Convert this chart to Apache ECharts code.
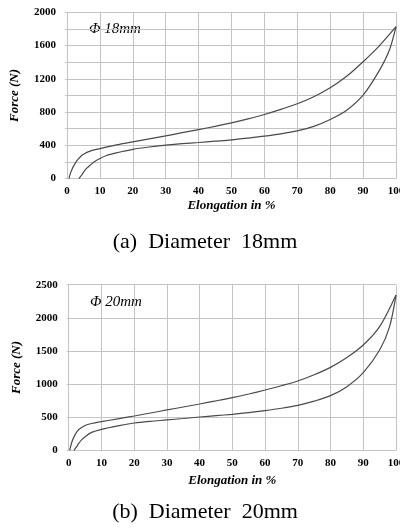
<!DOCTYPE html>
<html>
<head>
<meta charset="utf-8">
<script src="https://cdn.jsdelivr.net/npm/echarts@6/dist/echarts.min.js"></script>
<style>
html,body{margin:0;padding:0;background:#fff;}
#chart{width:400px;height:530px;}
</style>
</head>
<body>
<div id="chart"></div>
<script>
// ---- Data (Elongation %, Force N) ----
var loading18 = [[0.6,0],[1,60],[1.5,110],[2,150],[3,215],[4,260],[5,292],[7,330],[10,360],[15,405],[20,442],[25,478],[30,514],[35,552],[40,590],[45,628],[50,670],[55,718],[60,771],[65,832],[70,900],[75,985],[80,1092],[85,1230],[90,1406],[95,1600],[100,1827]];
var unloading18 = [[3.6,0],[4.5,45],[5,75],[6,125],[7,160],[8,195],[10,241],[12,278],[15,310],[20,352],[25,380],[30,402],[35,420],[40,434],[45,450],[50,466],[55,487],[60,510],[65,538],[70,574],[75,628],[80,711],[85,823],[90,1004],[95,1305],[98,1546],[100,1827]];
var loading20 = [[0.3,0],[1,130],[2,240],[3,310],[5,375],[7,405],[10,433],[15,475],[20,518],[25,563],[30,609],[35,654],[40,699],[45,746],[50,795],[55,850],[60,910],[65,975],[70,1046],[75,1140],[80,1252],[85,1400],[90,1589],[95,1866],[100,2344]];
var unloading20 = [[1.6,0],[2.5,60],[3,100],[4,160],[5,206],[7,270],[10,317],[15,370],[20,412],[25,438],[30,458],[35,480],[40,503],[45,523],[50,543],[55,568],[60,599],[65,635],[70,679],[75,742],[80,825],[85,961],[90,1172],[95,1514],[98,1860],[100,2344]];

var xTicks = [0,10,20,30,40,50,60,70,80,90,100];
var yTicks18 = [0,400,800,1200,1600,2000];
var yTicks20 = [0,500,1000,1500,2000,2500];

var labels = {
  yName: 'Force (N)',
  xName: 'Elongation in %',
  note18: 'Φ 18mm',
  note20: 'Φ 20mm',
  cap18: '(a)  Diameter  18mm',
  cap20: '(b)  Diameter  20mm'
};

var chart = echarts.init(document.getElementById('chart'), null, {renderer:'canvas'});

var gridColor = '#c4c4c4';
var lineColor = '#4a4a4a';
var serif = '"Liberation Serif","Times New Roman",serif';

function xAxisCfg(gridIndex, nameGap){
  return {
    type:'value', gridIndex:gridIndex, min:0, max:100, interval:10,
    axisLine:{show:true, lineStyle:{color:gridColor, width:1}},
    axisTick:{show:false},
    splitLine:{show:true, lineStyle:{color:gridColor, width:1}},
    axisLabel:{color:'#000', fontFamily:serif, fontWeight:'bold', fontSize:11, margin:7, hideOverlap:false,
      formatter:function(v){ return xTicks.indexOf(v)>=0 ? String(v) : ''; }},
    name: labels.xName, nameLocation:'middle', nameGap:nameGap,
    nameTextStyle:{color:'#000', fontFamily:serif, fontWeight:'bold', fontStyle:'italic', fontSize:13}
  };
}
function yAxisCfg(gridIndex, max, interval, ticks){
  return {
    type:'value', gridIndex:gridIndex, min:0, max:max, interval:interval,
    axisLine:{show:true, lineStyle:{color:gridColor, width:1}},
    axisTick:{show:true, length:2, lineStyle:{color:gridColor}},
    splitLine:{show:true, lineStyle:{color:gridColor, width:1}},
    axisLabel:{color:'#000', fontFamily:serif, fontWeight:'bold', fontSize:11, margin:11,
      formatter:function(v){ return ticks.indexOf(v)>=0 ? String(v) : ''; }},
    name: labels.yName, nameLocation:'middle', nameGap:46, nameRotate:90,
    nameTextStyle:{color:'#000', fontFamily:serif, fontWeight:'bold', fontStyle:'italic', fontSize:13}
  };
}
function lineSeries(data, xi, yi){
  return {
    type:'line', xAxisIndex:xi, yAxisIndex:yi, data:data, smooth:0.3,
    showSymbol:false, symbol:'none', animation:false,
    lineStyle:{color:lineColor, width:1.2}
  };
}

chart.setOption({
  backgroundColor:'#ffffff',
  animation:false,
  grid:[
    {left:67, right:4, top:12.3, height:166.3, containLabel:false, outerBoundsMode:'none'},
    {left:68.7, right:4, top:284.7, height:165.6, containLabel:false, outerBoundsMode:'none'}
  ],
  xAxis:[ xAxisCfg(0, 21), xAxisCfg(1, 24) ],
  yAxis:[ yAxisCfg(0, 2000, 200, yTicks18), yAxisCfg(1, 2500, 500, yTicks20) ],
  series:[
    lineSeries(loading18,0,0), lineSeries(unloading18,0,0),
    lineSeries(loading20,1,1), lineSeries(unloading20,1,1)
  ],
  graphic:[
    {type:'text', left:89, top:22, style:{text:labels.note18, fill:'#000', font:'italic 15px ' + serif}},
    {type:'text', left:90, top:295, style:{text:labels.note20, fill:'#000', font:'italic 15px ' + serif}},
    {type:'text', x:205, y:242, style:{text:labels.cap18, fill:'#000', font:'22px ' + serif, align:'center', verticalAlign:'middle'}},
    {type:'text', x:205, y:512, style:{text:labels.cap20, fill:'#000', font:'22px ' + serif, align:'center', verticalAlign:'middle'}}
  ]
});
</script>
</body>
</html>
